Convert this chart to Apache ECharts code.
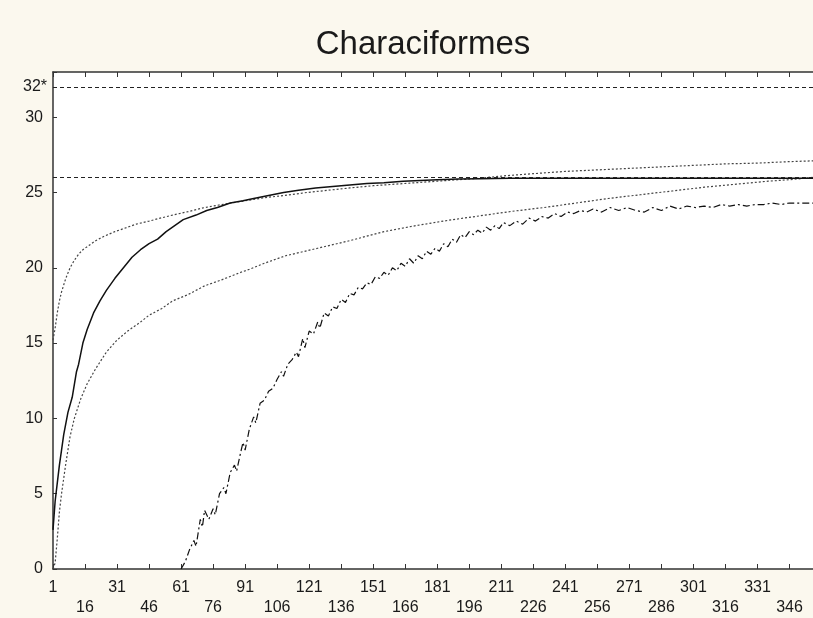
<!DOCTYPE html>
<html>
<head>
<meta charset="utf-8">
<script src="https://cdn.jsdelivr.net/npm/echarts@6/dist/echarts.min.js"></script>
<style>
  html, body { margin: 0; padding: 0; background: #fbf8ee; }
  #chart { width: 813px; height: 618px; }
</style>
</head>
<body>
<div id="chart"></div>
<script>
// x categories 1..357 (samples)
const days = Array.from({ length: 357 }, (_, i) => String(i + 1))

// observed curve (solid)
const obsX = [1, 2, 3, 4, 5, 6, 8, 10, 12, 13, 15, 17, 20, 23, 26, 30, 34, 38, 42, 46, 50, 54, 57, 62, 68, 73, 78, 84, 90, 95, 102, 109, 116, 124, 132, 140, 148, 156, 165, 173, 181, 191, 201, 215, 357]
const obsY = [2.6, 4.5, 5.7, 6.9, 7.9, 8.9, 10.4, 11.4, 13.1, 13.6, 15.0, 15.9, 17.0, 17.8, 18.5, 19.3, 20.0, 20.7, 21.2, 21.6, 21.9, 22.4, 22.7, 23.2, 23.5, 23.8, 24.0, 24.3, 24.45, 24.6, 24.8, 25.0, 25.15, 25.3, 25.4, 25.5, 25.6, 25.65, 25.75, 25.8, 25.85, 25.9, 25.92, 25.95, 25.95]

// upper confidence bound (dotted)
const upX = [1, 2, 3, 4, 5, 7, 9, 11, 13, 15, 18, 21, 25, 30, 34, 40, 46, 50, 57, 65, 72, 80, 91, 100, 109, 120, 130, 140, 151, 161, 171, 181, 191, 201, 212, 226, 241, 256, 271, 286, 301, 316, 331, 346, 357]
const upY = [15.2, 16.0, 17.0, 17.8, 18.4, 19.3, 20.0, 20.5, 20.9, 21.2, 21.5, 21.8, 22.1, 22.4, 22.6, 22.9, 23.1, 23.25, 23.5, 23.75, 24.0, 24.2, 24.45, 24.65, 24.8, 25.0, 25.15, 25.3, 25.45, 25.55, 25.65, 25.75, 25.85, 25.95, 26.1, 26.25, 26.4, 26.5, 26.6, 26.7, 26.8, 26.9, 26.95, 27.05, 27.1]

// lower confidence bound (dotted)
const lowX = [1, 2, 3, 4, 5, 7, 9, 11, 14, 17, 21, 26, 31, 36, 42, 46, 52, 57, 64, 72, 80, 89, 93, 100, 110, 125, 140, 156, 171, 186, 201, 216, 231, 246, 261, 276, 291, 306, 321, 336, 346, 357]
const lowY = [0, 0.4, 2.0, 3.8, 5.0, 7.0, 8.8, 10.0, 11.3, 12.3, 13.3, 14.4, 15.2, 15.8, 16.4, 16.85, 17.3, 17.8, 18.2, 18.8, 19.2, 19.7, 19.9, 20.3, 20.8, 21.3, 21.8, 22.4, 22.8, 23.15, 23.45, 23.75, 24.0, 24.3, 24.6, 24.85, 25.1, 25.35, 25.55, 25.75, 25.85, 26.0]

// jagged curve (dash-dot)
const jagX = [61, 63, 65, 67, 68, 70, 71, 72, 74, 76, 77, 79, 81, 82, 84, 86, 87, 89, 90, 91, 93, 95, 96, 98, 100, 102, 104, 106, 108, 109, 111, 113, 115, 116, 118, 119, 121, 123, 125, 126, 128, 130, 132, 134, 136, 138, 140, 142, 144, 146, 148, 150, 152, 154, 156, 158, 160, 162, 164, 166, 168, 170, 172, 174, 176, 178, 180, 182, 184, 186, 188, 190, 192, 194, 196, 198, 200, 202, 204, 206, 208, 210, 212, 215, 218, 221, 224, 227, 230, 233, 236, 239, 242, 245, 248, 251, 254, 258, 262, 266, 270, 274, 278, 282, 286, 290, 294, 298, 302, 306, 310, 314, 318, 322, 326, 330, 334, 338, 342, 346, 357]
const jagY = [0, 0.5, 1.3, 1.9, 1.5, 3.3, 2.8, 3.9, 3.3, 4.0, 3.6, 5.0, 5.4, 5.0, 6.4, 6.9, 6.5, 7.8, 8.4, 7.9, 9.3, 10.1, 9.7, 11.0, 11.2, 11.8, 12.0, 12.6, 13.1, 12.8, 13.6, 13.9, 14.4, 14.1, 15.3, 14.7, 15.8, 15.6, 16.4, 16.0, 17.0, 16.8, 17.4, 17.3, 17.9, 17.7, 18.3, 18.2, 18.7, 18.6, 19.0, 18.9, 19.4, 19.3, 19.7, 19.5, 20.0, 19.8, 20.3, 20.1, 20.6, 20.3, 20.8, 20.6, 21.1, 20.9, 21.3, 21.1, 21.6, 21.4, 21.9, 21.7, 22.2, 22.0, 22.4, 22.2, 22.5, 22.3, 22.7, 22.5, 22.8, 22.6, 23.0, 22.8, 23.1, 22.9, 23.3, 23.1, 23.4, 23.3, 23.6, 23.4, 23.7, 23.6, 23.8, 23.7, 23.9, 23.7, 24.0, 23.8, 24.0, 23.8, 23.7, 24.0, 23.8, 24.1, 23.9, 24.1, 24.0, 24.1, 24.0, 24.2, 24.1, 24.2, 24.1, 24.2, 24.2, 24.3, 24.2, 24.3, 24.3]

// reference lines
const refLines = [26, 32]

function pairs(xs, ys) {
  return xs.map((x, i) => [x - 1, ys[i]])
}

const chart = echarts.init(document.getElementById('chart'))

const font = 'Liberation Sans, Arial, sans-serif'

chart.setOption({
  animation: false,
  backgroundColor: '#fbf8ee',
  textStyle: { fontFamily: font },
  title: {
    text: 'Characiformes',
    left: 418,
    top: 23,
    textAlign: 'center',
    textStyle: { fontFamily: font, fontSize: 33, fontWeight: 'normal', color: '#1a1a1a' },
  },
  grid: {
    left: 53, right: 0, top: 72, bottom: 49,
    show: true, backgroundColor: '#ffffff', borderWidth: 0,
  },
  xAxis: [
    {
      type: 'category',
      data: days,
      boundaryGap: false,
      axisLine: { lineStyle: { color: '#333', width: 1.5 } },
      axisTick: { inside: true, interval: 14, length: 5, lineStyle: { color: '#333' } },
      axisLabel: {
        interval: 14,
        margin: 9,
        fontSize: 16,
        lineHeight: 20,
        color: '#1a1a1a',
        formatter: (v, i) => ((i / 15) % 2 === 1 ? '\n' + v : v),
      },
    },
    {
      type: 'category',
      data: days,
      position: 'top',
      boundaryGap: false,
      axisLine: { lineStyle: { color: '#333', width: 1.5 } },
      axisTick: { inside: true, interval: 14, length: 5, lineStyle: { color: '#333' } },
      axisLabel: { show: false },
    },
  ],
  yAxis: {
    type: 'value',
    min: 0,
    max: 33,
    interval: 5,
    splitLine: { show: false },
    axisLine: { show: true, lineStyle: { color: '#333', width: 1.5 } },
    axisTick: { show: true, inside: true, length: 4, lineStyle: { color: '#333' } },
    axisLabel: {
      fontSize: 16,
      color: '#1a1a1a',
      margin: 10,
      formatter: (v) => (v > 30 ? '' : v),
    },
  },
  series: [
    {
      name: 'upper',
      type: 'line',
      data: pairs(upX, upY),
      showSymbol: false,
      lineStyle: { color: '#444', width: 1.2, type: [2, 2] },
      markLine: {
        silent: true,
        symbol: 'none',
        lineStyle: { color: '#222', width: 1, type: [4, 3] },
        label: {
          position: 'start',
          distance: 6,
          fontSize: 16,
          color: '#1a1a1a',
          formatter: (p) => (p.value === 32 ? '32*' : ''),
        },
        data: refLines.map((v) => ({ yAxis: v })),
      },
    },
    {
      name: 'lower',
      type: 'line',
      data: pairs(lowX, lowY),
      showSymbol: false,
      lineStyle: { color: '#444', width: 1.2, type: [2, 2] },
    },
    {
      name: 'jagged',
      type: 'line',
      data: pairs(jagX, jagY),
      showSymbol: false,
      lineStyle: { color: '#111', width: 1.2, type: [7, 3, 2, 3] },
    },
    {
      name: 'observed',
      type: 'line',
      data: pairs(obsX, obsY),
      showSymbol: false,
      lineStyle: { color: '#111', width: 1.5 },
    },
  ],
})
</script>
</body>
</html>
